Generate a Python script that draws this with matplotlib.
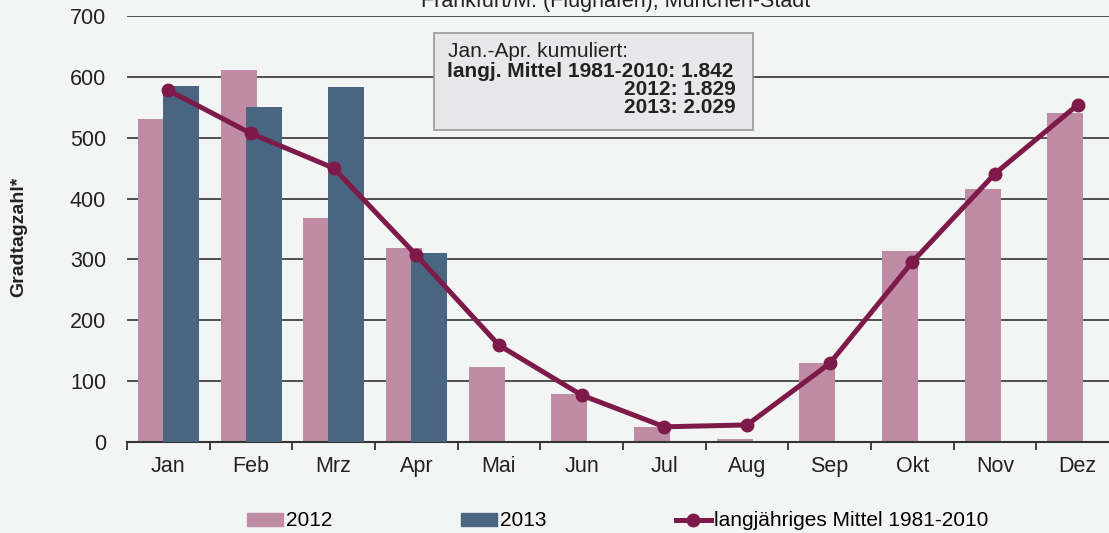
import numpy as np
import matplotlib.pyplot as plt
from matplotlib.patches import Rectangle, Patch
from matplotlib.lines import Line2D

plt.rcParams['font.family'] = ['Liberation Sans', 'DejaVu Sans']

months = ["Jan", "Feb", "Mrz", "Apr", "Mai", "Jun", "Jul", "Aug", "Sep", "Okt", "Nov", "Dez"]
val_2012 = [530, 612, 368, 319, 123, 79, 25, 5, 130, 314, 416, 540]
val_2013 = [585, 551, 583, 310]
mittel = [578, 507, 450, 307, 159, 77, 25, 28, 129, 296, 441, 554]

c2012 = "#bf8ba5"
c2013 = "#4a6580"
cline = "#7d1a4a"
bg = "#f3f5f4"
txt = "#222222"

fig = plt.figure(figsize=(11.09, 5.33), dpi=100, facecolor=bg)
ax = fig.add_axes([127 / 1109, 91 / 533, 992 / 1109, 426 / 533], facecolor=bg)

x = np.arange(len(months))
w = 0.435
ax.bar(x - 0.15, val_2012, width=w, color=c2012, zorder=2)
ax.bar(x[:len(val_2013)] + 0.155, val_2013, width=w, color=c2013, zorder=3)
ax.plot(x, mittel, color=cline, lw=3.6, marker="o", markersize=9, zorder=4)

ax.set_xlim(-0.5, 11.5)
ax.set_ylim(0, 700)
ax.set_yticks(range(0, 701, 100))
ax.yaxis.grid(True, color="#333333", lw=1.2, zorder=0)
ax.set_axisbelow(True)
ax.set_xticks(x)
ax.set_xticklabels(months)
ax.set_xticks(np.arange(-0.5, 12, 1), minor=True)
ax.tick_params(axis="x", which="major", length=0, pad=10, labelsize=15.5, colors=txt)
ax.tick_params(axis="x", which="minor", length=6, width=1.3, color="#333333", direction="out")
ax.tick_params(axis="y", length=0, pad=15, labelsize=15.5, colors=txt)
for s in ["top", "right", "left"]:
    ax.spines[s].set_visible(False)
ax.spines["bottom"].set_color("#333333")
ax.spines["bottom"].set_linewidth(1.5)

fig.text(19 / 1109, 1 - 237 / 533, "Gradtagzahl*", rotation=90, ha="center", va="center",
         fontsize=14, fontweight="bold", color=txt)

fig.text(616 / 1109, 1 - 7 / 533, "Frankfurt/M. (Flughafen), München-Stadt",
         ha="center", va="baseline", fontsize=15.5, color=txt)

# info box
fig.patches.append(Rectangle((434 / 1109, 403 / 533), 319 / 1109, 97 / 533,
                             transform=fig.transFigure, facecolor="#e8e8ea",
                             edgecolor="#999999", lw=1.2, zorder=5))
fig.text(448 / 1109, 1 - 57 / 533, "Jan.-Apr. kumuliert:", fontsize=15, va="baseline",
         color=txt, zorder=6)
fig.text(447 / 1109, 1 - 77 / 533, "langj. Mittel 1981-2010: 1.842", fontsize=15,
         fontweight="bold", va="baseline", color=txt, zorder=6)
fig.text(736 / 1109, 1 - 95 / 533, "2012: 1.829", fontsize=15, fontweight="bold",
         ha="right", va="baseline", color=txt, zorder=6)
fig.text(736 / 1109, 1 - 113 / 533, "2013: 2.029", fontsize=15, fontweight="bold",
         ha="right", va="baseline", color=txt, zorder=6)

handles = [Patch(color=c2012), Patch(color=c2013),
           Line2D([], [], color=cline, lw=3.6, marker="o", markersize=9)]
fig.legend(handles, ["2012", "2013", "langjähriges Mittel 1981-2010"], loc="center",
           bbox_to_anchor=(618 / 1109, 1 - 521 / 533), ncol=3, frameon=False,
           fontsize=15, handlelength=1.7, handletextpad=0.15, columnspacing=6.2,
           handleheight=0.6, borderpad=0)

fig.savefig("out.png", dpi=100, facecolor=bg)
